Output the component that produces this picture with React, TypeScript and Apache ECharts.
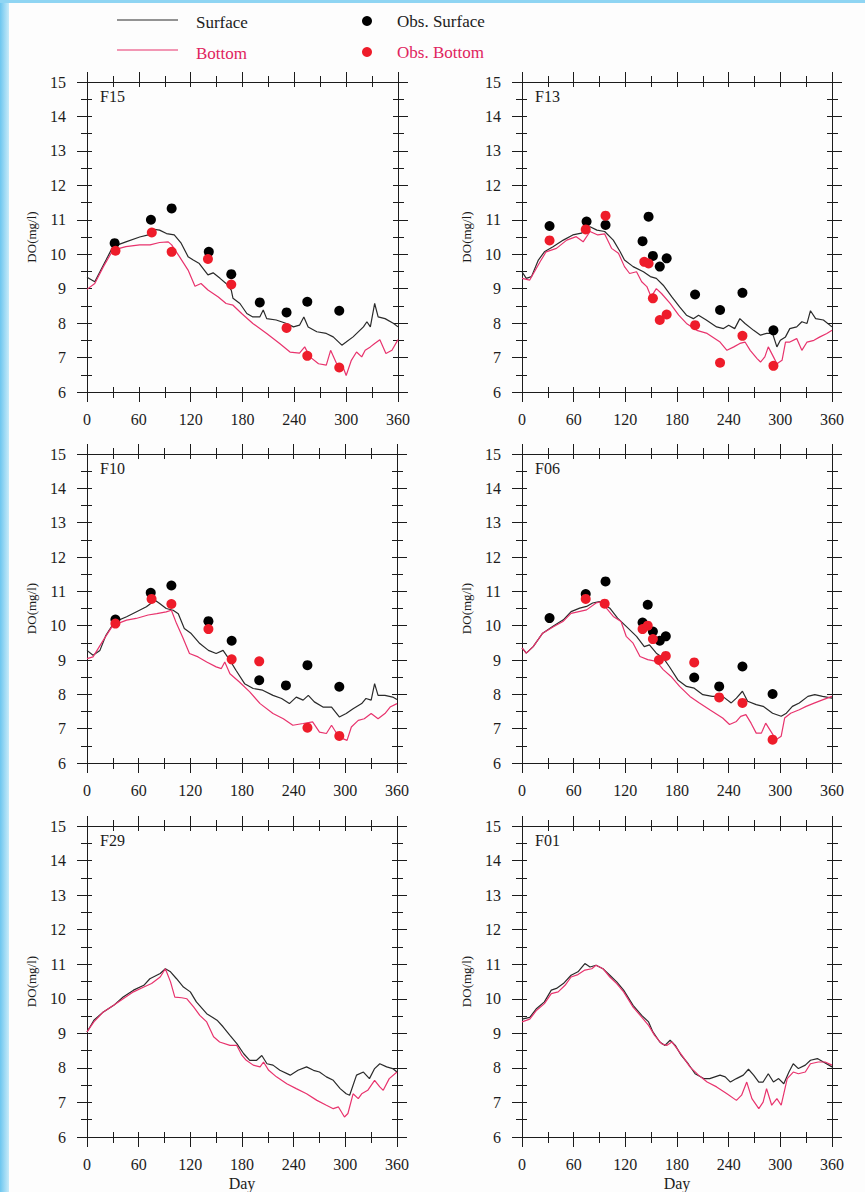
import React, { useEffect, useRef } from "react";
import * as echarts from "echarts";

type Pt = [number, number];

// ---------- DATA ----------
const stationNames = ["F15", "F13", "F10", "F06", "F29", "F01"];

const F15_surface: Pt[] = [[0,9.33],[9,9.2],[22,9.83],[30,10.22],[45,10.36],[61,10.5],[71,10.56],[78,10.72],[84,10.7],[92,10.6],[101,10.56],[109,10.32],[117,9.93],[123,9.83],[130,9.73],[140,9.4],[146,9.46],[154,9.3],[161,9.15],[167,8.96],[169,8.72],[177,8.57],[185,8.28],[192,8.18],[200,8.18],[204,8.38],[208,8.13],[219,8.09],[231,7.99],[239,7.89],[246,7.94],[251,8.18],[256,7.89],[266,7.75],[277,7.7],[285,7.6],[295,7.36],[300,7.45],[308,7.6],[320,7.89],[324,8.04],[328,7.89],[333,8.57],[337,8.18],[345,8.13],[355,7.99],[360,7.89]];
const F15_bottom: Pt[] = [[0,8.98],[9,9.15],[19,9.64],[30,10.12],[45,10.22],[61,10.27],[73,10.27],[84,10.34],[94,10.36],[98,10.27],[107,9.93],[117,9.54],[125,9.07],[132,9.15],[140,8.96],[152,8.76],[161,8.57],[169,8.52],[179,8.28],[192,7.99],[208,7.7],[223,7.41],[235,7.16],[246,7.13],[252,7.31],[258,7.02],[268,6.82],[277,6.78],[282,7.21],[289,6.82],[297,6.68],[300,6.48],[306,6.92],[312,7.16],[318,7.02],[322,7.21],[328,7.31],[333,7.41],[339,7.52],[346,7.12],[353,7.21],[360,7.52]];
const F15_obsSurface: Pt[] = [[32,10.32],[74,11.0],[98,11.33],[141,10.07],[167,9.42],[200,8.6],[231,8.31],[255,8.62],[292,8.36]];
const F15_obsBottom: Pt[] = [[33,10.1],[75,10.63],[98,10.07],[140,9.86],[167,9.12],[231,7.86],[255,7.05],[292,6.71]];

const F13_surface: Pt[] = [[0,9.49],[5,9.3],[11,9.35],[19,9.83],[26,10.07],[36,10.22],[48,10.41],[59,10.56],[69,10.61],[79,10.8],[87,10.7],[96,10.66],[106,10.41],[114,10.07],[119,9.83],[129,9.64],[141,9.49],[149,9.35],[156,9.3],[164,9.1],[174,8.76],[183,8.47],[191,8.23],[199,8.13],[205,8.23],[214,8.09],[226,7.89],[234,7.84],[240,7.94],[247,7.84],[253,8.13],[259,7.99],[269,7.79],[277,7.65],[284,7.7],[291,7.7],[296,7.31],[300,7.5],[306,7.6],[311,7.84],[319,7.89],[325,8.04],[331,7.99],[335,8.36],[341,8.13],[350,8.09],[360,7.89]];
const F13_bottom: Pt[] = [[0,9.3],[9,9.25],[21,9.78],[28,10.07],[40,10.17],[52,10.41],[63,10.51],[71,10.36],[79,10.66],[88,10.56],[96,10.59],[104,10.17],[112,10.03],[119,9.64],[125,9.44],[133,9.49],[139,9.2],[145,9.06],[150,8.76],[156,9.0],[162,8.86],[172,8.57],[182,8.23],[191,7.99],[203,7.79],[215,7.7],[230,7.45],[238,7.21],[246,7.31],[253,7.41],[259,7.45],[265,7.21],[273,6.97],[277,6.87],[282,7.02],[286,7.31],[292,7.02],[296,6.82],[302,6.92],[306,7.45],[311,7.45],[319,7.55],[325,7.21],[331,7.45],[339,7.5],[346,7.6],[354,7.7],[360,7.79]];
const F13_obsSurface: Pt[] = [[32,10.82],[75,10.95],[97,10.85],[140,10.38],[147,11.09],[152,9.95],[160,9.64],[168,9.88],[201,8.83],[230,8.38],[256,8.88],[292,7.79]];
const F13_obsBottom: Pt[] = [[32,10.4],[74,10.72],[97,11.12],[142,9.78],[147,9.73],[152,8.72],[160,8.09],[168,8.25],[201,7.94],[230,6.85],[256,7.63],[292,6.76]];

const F10_surface: Pt[] = [[0,9.28],[7,9.14],[15,9.28],[22,9.72],[32,10.11],[46,10.26],[57,10.4],[69,10.55],[79,10.74],[84,10.65],[92,10.5],[100,10.45],[106,10.35],[113,9.92],[121,9.77],[131,9.48],[141,9.28],[150,9.19],[158,9.28],[166,8.99],[173,8.7],[183,8.31],[193,8.17],[204,8.12],[216,7.97],[226,7.88],[235,7.73],[243,7.92],[251,7.83],[257,7.97],[264,7.78],[274,7.63],[284,7.63],[293,7.34],[301,7.44],[309,7.58],[319,7.73],[324,7.88],[330,7.83],[334,8.31],[338,7.97],[346,7.97],[355,7.92],[360,7.85]];
const F10_bottom: Pt[] = [[0,9.04],[7,9.09],[19,9.58],[30,10.01],[46,10.16],[57,10.21],[71,10.31],[81,10.35],[92,10.4],[98,10.45],[104,10.06],[111,9.67],[119,9.19],[129,9.09],[139,8.94],[150,8.8],[156,8.75],[160,8.94],[166,8.6],[177,8.36],[189,8.07],[201,7.73],[216,7.44],[228,7.29],[239,7.1],[251,7.15],[262,7.2],[270,6.9],[278,6.86],[284,7.1],[290,6.86],[297,6.71],[302,6.66],[307,7.05],[315,7.24],[322,7.29],[330,7.44],[338,7.29],[346,7.44],[352,7.63],[360,7.73]];
const F10_obsSurface: Pt[] = [[33,10.18],[74,10.96],[98,11.17],[141,10.13],[168,9.56],[200,8.41],[231,8.26],[256,8.85],[293,8.22]];
const F10_obsBottom: Pt[] = [[33,10.06],[75,10.78],[98,10.63],[141,9.9],[168,9.02],[200,8.96],[256,7.03],[293,6.79]];

const F06_surface: Pt[] = [[0,9.35],[5,9.2],[13,9.39],[24,9.78],[36,9.98],[48,10.17],[57,10.41],[67,10.51],[75,10.56],[82,10.66],[90,10.7],[96,10.61],[102,10.51],[111,10.22],[121,9.98],[133,9.69],[142,9.39],[148,9.44],[156,9.2],[164,9.06],[171,8.81],[181,8.42],[191,8.23],[200,8.18],[210,7.99],[221,7.94],[233,7.94],[243,7.75],[249,7.89],[256,8.09],[262,7.8],[272,7.7],[280,7.65],[291,7.45],[301,7.36],[307,7.45],[314,7.65],[322,7.75],[332,7.94],[340,7.99],[349,7.94],[360,7.89]];
const F06_bottom: Pt[] = [[0,9.35],[5,9.2],[13,9.39],[24,9.78],[36,9.96],[48,10.13],[57,10.36],[75,10.46],[86,10.66],[92,10.7],[98,10.51],[106,10.27],[115,10.12],[121,9.69],[129,9.49],[137,9.1],[146,9.01],[156,8.96],[164,8.72],[173,8.52],[183,8.23],[195,7.94],[206,7.75],[218,7.55],[233,7.31],[241,7.12],[249,7.21],[254,7.36],[260,7.41],[266,7.16],[272,6.87],[278,6.87],[283,7.16],[289,6.92],[295,6.68],[301,6.78],[305,7.31],[312,7.45],[322,7.55],[330,7.65],[340,7.75],[349,7.84],[360,7.94]];
const F06_obsSurface: Pt[] = [[32,10.22],[74,10.92],[97,11.29],[140,10.09],[146,10.61],[152,9.83],[160,9.56],[167,9.69],[200,8.49],[229,8.23],[256,8.81],[291,8.01]];
const F06_obsBottom: Pt[] = [[74,10.78],[96,10.64],[140,9.9],[146,10.0],[152,9.61],[159,9.0],[167,9.12],[200,8.93],[229,7.91],[256,7.75],[291,6.68]];

const F29_surface: Pt[] = [[0,9.04],[8,9.38],[19,9.62],[31,9.81],[42,10.05],[54,10.25],[66,10.39],[73,10.58],[85,10.73],[91,10.87],[97,10.78],[104,10.58],[112,10.34],[120,10.2],[127,9.91],[139,9.57],[151,9.38],[158,9.19],[166,8.94],[174,8.7],[182,8.41],[189,8.22],[197,8.22],[203,8.36],[209,8.12],[216,8.08],[224,7.93],[236,7.79],[245,7.93],[255,8.03],[263,7.93],[270,7.88],[278,7.74],[286,7.64],[294,7.4],[301,7.25],[305,7.21],[313,7.79],[321,7.88],[328,7.69],[334,7.98],[340,8.12],[348,8.03],[355,7.98],[360,7.88]];
const F29_bottom: Pt[] = [[0,9.04],[8,9.33],[19,9.62],[31,9.81],[42,10.0],[54,10.2],[66,10.34],[75,10.44],[85,10.63],[91,10.87],[97,10.49],[102,10.05],[110,10.03],[116,10.0],[124,9.76],[131,9.52],[139,9.33],[147,8.9],[154,8.75],[166,8.65],[174,8.65],[180,8.36],[185,8.22],[193,8.08],[201,8.03],[205,8.17],[211,7.93],[220,7.74],[232,7.54],[243,7.4],[255,7.25],[267,7.06],[278,6.92],[286,6.82],[292,6.87],[299,6.58],[303,6.68],[309,7.25],[315,7.11],[319,7.25],[326,7.35],[334,7.64],[340,7.45],[344,7.35],[351,7.69],[360,7.88]];
const F29_obsSurface: Pt[] = [];
const F29_obsBottom: Pt[] = [];

const F01_surface: Pt[] = [[0,9.41],[9,9.46],[17,9.72],[26,9.91],[34,10.25],[40,10.3],[48,10.44],[57,10.68],[65,10.78],[73,11.02],[79,10.92],[86,10.97],[94,10.87],[102,10.68],[110,10.49],[118,10.25],[129,9.81],[139,9.52],[147,9.33],[152,9.04],[160,8.75],[166,8.65],[172,8.8],[178,8.65],[185,8.36],[193,8.12],[201,7.83],[211,7.69],[218,7.69],[230,7.79],[236,7.74],[242,7.59],[249,7.69],[257,7.79],[263,7.96],[269,7.79],[275,7.59],[280,7.59],[286,7.83],[292,7.59],[298,7.69],[304,7.54],[310,7.88],[315,8.12],[321,7.98],[329,8.08],[335,8.22],[343,8.27],[350,8.17],[360,8.03]];
const F01_bottom: Pt[] = [[0,9.33],[9,9.41],[17,9.67],[26,9.86],[34,10.15],[42,10.2],[50,10.39],[57,10.63],[65,10.7],[73,10.83],[81,10.87],[86,10.97],[94,10.87],[102,10.63],[110,10.44],[118,10.2],[129,9.76],[139,9.47],[147,9.23],[154,8.94],[162,8.7],[168,8.65],[174,8.75],[180,8.56],[187,8.32],[195,8.03],[205,7.79],[215,7.59],[226,7.45],[238,7.25],[249,7.06],[255,7.21],[261,7.59],[267,7.11],[275,6.82],[280,7.01],[284,7.4],[290,6.92],[296,7.11],[301,6.92],[308,7.69],[315,7.88],[321,7.83],[329,7.88],[335,8.12],[344,8.17],[352,8.17],[360,8.08]];
const F01_obsSurface: Pt[] = [];
const F01_obsBottom: Pt[] = [];

const surfaceSeries = [F15_surface, F13_surface, F10_surface, F06_surface, F29_surface, F01_surface];
const bottomSeries = [F15_bottom, F13_bottom, F10_bottom, F06_bottom, F29_bottom, F01_bottom];
const obsSurfaceSeries = [F15_obsSurface, F13_obsSurface, F10_obsSurface, F06_obsSurface, F29_obsSurface, F01_obsSurface];
const obsBottomSeries = [F15_obsBottom, F13_obsBottom, F10_obsBottom, F06_obsBottom, F29_obsBottom, F01_obsBottom];

const legendLabels = ["Surface", "Bottom", "Obs. Surface", "Obs. Bottom"];
const xAxisName = "Day";
const yAxisName = "DO(mg/l)";

// ---------- STYLE / LAYOUT ----------
const FONT = '"Liberation Serif", "Times New Roman", serif';
const INK = "#1c1c1c";
const BLACK_LINE = "#2a2a2a";
const RED_LINE = "#e8336d";
const RED_DOT = "#ee1c2a";
const RED_TEXT = "#e0245e";

const panelBoxes = [
  { left: 87, top: 82, width: 311, height: 310 },
  { left: 522, top: 82, width: 310, height: 310 },
  { left: 87, top: 454, width: 310, height: 309 },
  { left: 522, top: 454, width: 310, height: 309 },
  { left: 87, top: 826, width: 310, height: 311 },
  { left: 522, top: 826, width: 310, height: 311 },
];

function buildOption() {
  const lineStyle = { color: INK, width: 1 };
  const grid: any[] = [];
  const xAxis: any[] = [];
  const yAxis: any[] = [];
  const series: any[] = [];
  const graphic: any[] = [];

  panelBoxes.forEach((b, i) => {
    grid.push({ left: b.left, top: b.top, width: b.width, height: b.height });
    const isBottomRow = i >= 4;
    const xBase = { type: "value", gridIndex: i, min: 0, max: 360, interval: 60, splitLine: { show: false } };
    const yBase = { type: "value", gridIndex: i, min: 6, max: 15, interval: 1, splitLine: { show: false } };
    const outer = (pos: string, label: boolean, extra: any = {}) => ({
      position: pos,
      axisLine: { show: true, onZero: false, lineStyle },
      axisTick: { show: true, inside: false, length: 10, lineStyle },
      minorTick: { show: true, splitNumber: 2, length: 6, lineStyle },
      axisLabel: label
        ? { show: true, fontFamily: FONT, fontSize: 16, color: INK, ...extra }
        : { show: false },
    });
    const inner = (pos: string) => ({
      position: pos,
      axisLine: { show: false, onZero: false },
      axisTick: { show: true, inside: true, length: 5, lineStyle },
      minorTick: { show: true, splitNumber: 2, length: 5, lineStyle },
      axisLabel: { show: false },
    });
    xAxis.push({
      ...xBase,
      ...outer("bottom", true, { margin: 19 }),
      name: isBottomRow ? xAxisName : "",
      nameLocation: "middle",
      nameGap: 38,
      nameTextStyle: { fontFamily: FONT, fontSize: 16, color: INK },
    });
    xAxis.push({ ...xBase, ...inner("bottom") });
    xAxis.push({ ...xBase, ...outer("top", false) });
    xAxis.push({ ...xBase, ...inner("top") });

    yAxis.push({
      ...yBase,
      ...outer("left", true, { margin: 21 }),
      name: yAxisName,
      nameLocation: "middle",
      nameRotate: 90,
      nameGap: 49,
      nameTextStyle: { fontFamily: FONT, fontSize: 13, color: INK },
    });
    yAxis.push({ ...yBase, ...inner("left") });
    yAxis.push({ ...yBase, ...outer("right", false) });
    yAxis.push({ ...yBase, ...inner("right") });

    const ai = i * 4;
    series.push({
      type: "line", name: legendLabels[0], xAxisIndex: ai, yAxisIndex: ai,
      data: surfaceSeries[i], symbol: "none", showSymbol: false, silent: true,
      lineStyle: { color: BLACK_LINE, width: 1.2 }, z: 2,
    });
    series.push({
      type: "line", name: legendLabels[1], xAxisIndex: ai, yAxisIndex: ai,
      data: bottomSeries[i], symbol: "none", showSymbol: false, silent: true,
      lineStyle: { color: RED_LINE, width: 1.2 }, z: 3,
    });
    series.push({
      type: "scatter", name: legendLabels[2], xAxisIndex: ai, yAxisIndex: ai,
      data: obsSurfaceSeries[i], symbol: "circle", symbolSize: 10, silent: true,
      itemStyle: { color: "#000", opacity: 1 }, z: 4,
    });
    series.push({
      type: "scatter", name: legendLabels[3], xAxisIndex: ai, yAxisIndex: ai,
      data: obsBottomSeries[i], symbol: "circle", symbolSize: 10, silent: true,
      itemStyle: { color: RED_DOT, opacity: 1 }, z: 5,
    });

    graphic.push({
      type: "text",
      x: b.left + 13,
      y: b.top + 14,
      silent: true,
      style: {
        text: stationNames[i],
        font: `16px ${FONT}`,
        fill: INK,
        textVerticalAlign: "middle",
        verticalAlign: "middle",
      },
    });
  });

  // page decoration: blue edge strips
  graphic.push({
    type: "rect",
    x: 0, y: 0, silent: true, z: -10,
    shape: { width: 9, height: 1192 },
    style: {
      fill: new echarts.graphic.LinearGradient(0, 0, 1, 0, [
        { offset: 0, color: "#6cc6ef" },
        { offset: 1, color: "#c9ebf9" },
      ]),
    },
  });
  graphic.push({
    type: "rect",
    x: 0, y: 0, silent: true, z: -10,
    shape: { width: 865, height: 3 },
    style: { fill: "#8fd5f3" },
  });

  // legend
  const legendFont = `17px ${FONT}`;
  graphic.push({
    type: "line", silent: true,
    shape: { x1: 117, y1: 20, x2: 178, y2: 20 },
    style: { stroke: BLACK_LINE, lineWidth: 1.2 },
  });
  graphic.push({
    type: "text", x: 196, y: 22, silent: true,
    style: { text: legendLabels[0], font: legendFont, fill: INK, textVerticalAlign: "middle", verticalAlign: "middle" },
  });
  graphic.push({
    type: "line", silent: true,
    shape: { x1: 117, y1: 50, x2: 178, y2: 50 },
    style: { stroke: RED_LINE, lineWidth: 1.2 },
  });
  graphic.push({
    type: "text", x: 196, y: 53, silent: true,
    style: { text: legendLabels[1], font: legendFont, fill: RED_TEXT, textVerticalAlign: "middle", verticalAlign: "middle" },
  });
  graphic.push({
    type: "circle", silent: true,
    shape: { cx: 367, cy: 21, r: 5 },
    style: { fill: "#000" },
  });
  graphic.push({
    type: "text", x: 397, y: 21, silent: true,
    style: { text: legendLabels[2], font: legendFont, fill: INK, textVerticalAlign: "middle", verticalAlign: "middle" },
  });
  graphic.push({
    type: "circle", silent: true,
    shape: { cx: 367, cy: 52, r: 5 },
    style: { fill: RED_DOT },
  });
  graphic.push({
    type: "text", x: 397, y: 52, silent: true,
    style: { text: legendLabels[3], font: legendFont, fill: RED_TEXT, textVerticalAlign: "middle", verticalAlign: "middle" },
  });

  return {
    animation: false,
    backgroundColor: "#fdfdfd",
    grid,
    xAxis,
    yAxis,
    series,
    graphic,
  };
}

export default function App() {
  const ref = useRef<HTMLDivElement | null>(null);
  useEffect(() => {
    if (!ref.current) return;
    const chart = echarts.init(ref.current, undefined, { renderer: "svg" });
    chart.setOption(buildOption() as any);
    return () => chart.dispose();
  }, []);
  return (
    <div
      ref={ref}
      style={{ position: "fixed", left: 0, top: 0, width: 865, height: 1192 }}
    />
  );
}
